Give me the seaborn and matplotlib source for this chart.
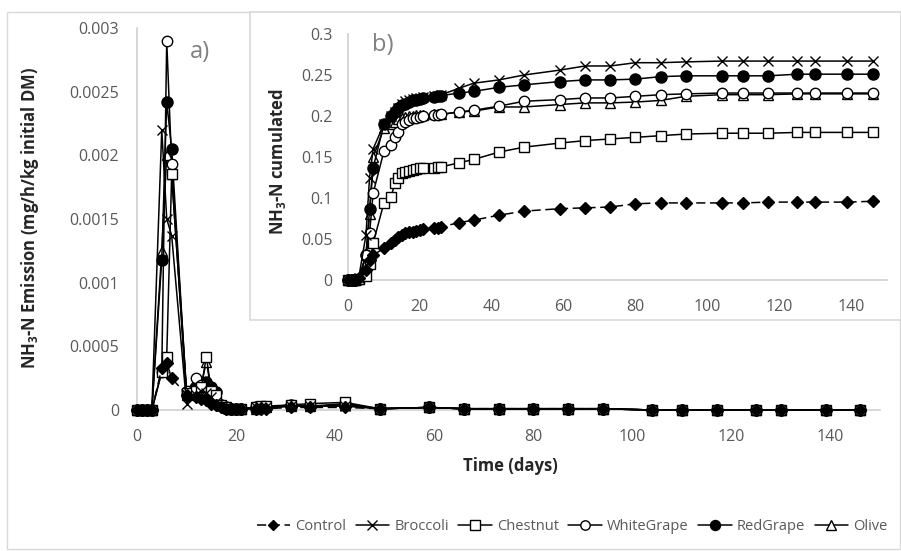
import matplotlib
matplotlib.use("Agg")
import matplotlib.pyplot as plt
import seaborn as sns
import pandas as pd
from matplotlib.patches import Rectangle
from matplotlib.lines import Line2D

# ---------------- data ----------------
days = [0, 1, 2, 3, 5, 6, 7, 10, 12, 13, 14, 15, 16, 17, 18, 19, 20, 21, 24, 25, 26,
        31, 35, 42, 49, 59, 66, 73, 80, 87, 94, 104, 110, 117, 125, 130, 139, 146]

series = ["Control", "Broccoli", "Chestnut", "WhiteGrape", "RedGrape", "Olive"]

# daily emission (mg/h/kg initial DM)
em_control = [0, 0, 0, 0, 0.00033, 0.00037, 0.00025, 0.00012, 0.00010, 0.00009, 0.00008, 0.00005, 0.00004, 0.00002, 0.00001, 0.00001, 0.00001, 0.00001, 0.00001, 0.00001, 0.00001,
              0.00002, 0.00002, 0.00002, 0.00001, 0.00002, 0.00001, 0.00001, 0.00001, 0.00001, 0.00001, 0, 0, 0, 0, 0, 0, 0]
em_broccoli = [0, 0, 0, 0, 0.00220, 0.00150, 0.00137, 0.00005, 0.00012, 0.00015, 0.00013, 0.00010, 0.00006, 0.00003, 0.00002, 0.00001, 0.00001, 0.00001, 0.00002, 0.00002, 0.00002,
               0.00003, 0.00003, 0.00003, 0.00001, 0.00002, 0.00001, 0.00001, 0.00001, 0.00001, 0.00001, 0, 0, 0, 0, 0, 0, 0]
em_chestnut = [0, 0, 0, 0, 0.00030, 0.00042, 0.00185, 0.00013, 0.00015, 0.00018, 0.00042, 0.00015, 0.00012, 0.00004, 0.00002, 0.00001, 0.00001, 0.00001, 0.00002, 0.00003, 0.00003,
               0.00004, 0.00005, 0.00006, 0.00001, 0.00002, 0.00001, 0.00001, 0.00001, 0.00001, 0.00001, 0, 0, 0, 0, 0, 0, 0]
em_whitegrape = [0, 0, 0, 0, 0.00030, 0.00290, 0.00193, 0.00015, 0.00025, 0.00020, 0.00015, 0.00010, 0.00008, 0.00003, 0.00001, 0.00001, 0.00001, 0.00001, 0.00001, 0.00002, 0.00002,
                 0.00003, 0.00003, 0.00004, 0.00001, 0.00002, 0.00001, 0.00001, 0.00001, 0.00001, 0.00001, 0, 0, 0, 0, 0, 0, 0]
em_redgrape = [0, 0, 0, 0, 0.00118, 0.00242, 0.00205, 0.00012, 0.00018, 0.00022, 0.00022, 0.00018, 0.00014, 0.00004, 0.00002, 0.00001, 0.00001, 0.00001, 0.00002, 0.00002, 0.00002,
               0.00004, 0.00003, 0.00005, 0.00001, 0.00002, 0.00001, 0.00001, 0.00001, 0.00001, 0.00001, 0, 0, 0, 0, 0, 0, 0]
em_olive = [0, 0, 0, 0, 0.00125, 0.00200, 0.00185, 0.00012, 0.00015, 0.00020, 0.00038, 0.00015, 0.00012, 0.00004, 0.00002, 0.00001, 0.00001, 0.00001, 0.00001, 0.00002, 0.00002,
            0.00003, 0.00003, 0.00004, 0.00001, 0.00002, 0.00001, 0.00001, 0.00001, 0.00001, 0.00001, 0, 0, 0, 0, 0, 0, 0]

# cumulated NH3-N
cu_control = [0, 0, 0, 0.002, 0.012, 0.025, 0.030, 0.039, 0.045, 0.049, 0.052, 0.055, 0.057, 0.058, 0.059, 0.060, 0.061, 0.062, 0.063, 0.064, 0.065,
              0.070, 0.073, 0.079, 0.084, 0.087, 0.088, 0.089, 0.093, 0.094, 0.094, 0.094, 0.094, 0.095, 0.095, 0.095, 0.095, 0.096]
cu_broccoli = [0, 0, 0, 0.003, 0.055, 0.125, 0.160, 0.190, 0.200, 0.205, 0.210, 0.215, 0.218, 0.220, 0.221, 0.222, 0.222, 0.223, 0.224, 0.225, 0.226,
               0.234, 0.240, 0.244, 0.250, 0.256, 0.261, 0.261, 0.265, 0.265, 0.266, 0.267, 0.267, 0.267, 0.267, 0.267, 0.267, 0.267]
cu_chestnut = [0, 0, 0, 0.001, 0.005, 0.020, 0.045, 0.094, 0.101, 0.118, 0.125, 0.130, 0.132, 0.133, 0.134, 0.135, 0.136, 0.136, 0.137, 0.138, 0.138,
               0.143, 0.147, 0.156, 0.162, 0.167, 0.170, 0.172, 0.174, 0.176, 0.178, 0.179, 0.179, 0.179, 0.180, 0.180, 0.180, 0.180]
cu_whitegrape = [0, 0, 0, 0.001, 0.030, 0.057, 0.106, 0.157, 0.165, 0.175, 0.181, 0.190, 0.193, 0.195, 0.197, 0.198, 0.199, 0.200, 0.201, 0.201, 0.202,
                 0.205, 0.207, 0.212, 0.218, 0.220, 0.222, 0.222, 0.224, 0.226, 0.227, 0.228, 0.228, 0.228, 0.228, 0.228, 0.228, 0.228]
cu_redgrape = [0, 0, 0, 0.001, 0.031, 0.086, 0.137, 0.190, 0.200, 0.205, 0.210, 0.213, 0.215, 0.217, 0.219, 0.220, 0.221, 0.222, 0.223, 0.224, 0.225,
               0.228, 0.230, 0.235, 0.238, 0.242, 0.244, 0.244, 0.245, 0.248, 0.249, 0.249, 0.249, 0.249, 0.251, 0.251, 0.251, 0.251]
cu_olive = [0, 0, 0, 0.001, 0.030, 0.080, 0.150, 0.185, 0.190, 0.193, 0.196, 0.198, 0.199, 0.200, 0.200, 0.201, 0.201, 0.201, 0.202, 0.202, 0.202,
            0.205, 0.206, 0.211, 0.211, 0.214, 0.216, 0.216, 0.217, 0.219, 0.224, 0.226, 0.226, 0.226, 0.227, 0.227, 0.227, 0.227]

main_xticks = [0, 20, 40, 60, 80, 100, 120, 140]
main_yticks = [0, 0.0005, 0.001, 0.0015, 0.002, 0.0025, 0.003]
main_yticklabels = ["0", "0.0005", "0.001", "0.0015", "0.002", "0.0025", "0.003"]
inset_yticks = [0, 0.05, 0.1, 0.15, 0.2, 0.25, 0.3]
inset_yticklabels = ["0", "0.05", "0.1", "0.15", "0.2", "0.25", "0.3"]

emissions = [em_control, em_broccoli, em_chestnut, em_whitegrape, em_redgrape, em_olive]
cumulated = [cu_control, cu_broccoli, cu_chestnut, cu_whitegrape, cu_redgrape, cu_olive]

styles = {
    "Control":    dict(marker="D", mfc="black", ms=6.0, ls=(0, (6, 3))),
    "Broccoli":   dict(marker="x", mfc="black", ms=7.5, ls="-"),
    "Chestnut":   dict(marker="s", mfc="white", ms=7.5, ls="-"),
    "WhiteGrape": dict(marker="o", mfc="white", ms=7.5, ls="-"),
    "RedGrape":   dict(marker="o", mfc="black", ms=8.0, ls="-"),
    "Olive":      dict(marker="^", mfc="white", ms=7.5, ls="-"),
}

# ---------------- style ----------------
sns.set_theme(style="white")
plt.rcParams["font.family"] = ["Open Sans", "DejaVu Sans"]
plt.rcParams["mathtext.fontset"] = "custom"
plt.rcParams["mathtext.rm"] = "Open Sans"
plt.rcParams["mathtext.bf"] = "Open Sans:bold"
TICK_C = "#595959"
AXIS_C = "#d0d0d0"

W, H = 901, 551
fig = plt.figure(figsize=(W / 100, H / 100), dpi=100)
fig.patch.set_facecolor("white")

def fx(px):
    return px / W

def fy(py):
    return 1 - py / H

# outer border
fig.add_artist(Rectangle((fx(7), fy(549)), fx(900) - fx(7), fy(12) - fy(549),
                         transform=fig.transFigure, facecolor="none",
                         edgecolor="#d9d9d9", lw=1.0, zorder=0.5))

def style_axes(ax, xlim, ylim, xticks, yticks, ylabels):
    ax.set_xlim(*xlim)
    ax.set_ylim(*ylim)
    ax.set_xticks(xticks)
    ax.set_xticklabels([str(t) for t in xticks])
    ax.set_yticks(yticks)
    ax.set_yticklabels(ylabels)
    for s in ["top", "right"]:
        ax.spines[s].set_visible(False)
    for s in ["left", "bottom"]:
        ax.spines[s].set_color(AXIS_C)
        ax.spines[s].set_linewidth(1.2)
    ax.tick_params(axis="both", length=0, labelsize=11.5, colors=TICK_C)
    ax.tick_params(axis="y", pad=13)
    ax.tick_params(axis="x", pad=14)
    ax.set_xlabel("")
    ax.set_ylabel("")
    ax.grid(False)

def draw(ax, data):
    # draw in reverse order so the filled markers end up on top
    for name, vals in list(zip(series, data))[::-1]:
        st = styles[name]
        df = pd.DataFrame({"day": days, "value": vals})
        sns.lineplot(data=df, x="day", y="value", ax=ax, color="black", lw=1.1,
                     linestyle=st["ls"], marker=st["marker"], markersize=st["ms"],
                     markerfacecolor=st["mfc"], markeredgecolor="black",
                     markeredgewidth=1.0, sort=False, legend=False, zorder=3)

# main axes
ax = fig.add_axes([fx(137), fy(410), fx(880) - fx(137), fy(28) - fy(410)])
ax.set_facecolor("none")
draw(ax, emissions)
style_axes(ax, (0, 150), (0, 0.003), main_xticks, main_yticks, main_yticklabels)
for l in ax.lines:
    l.set_clip_on(False)

# inset box
fig.add_artist(Rectangle((fx(250), fy(320)), fx(901) - fx(250), fy(12) - fy(320),
                         transform=fig.transFigure, facecolor="white",
                         edgecolor="#d9d9d9", lw=1.2, zorder=1))

ax2 = fig.add_axes([fx(348), fy(280), fx(887) - fx(348), fy(34) - fy(280)], zorder=2)
ax2.set_facecolor("none")
draw(ax2, cumulated)
style_axes(ax2, (0, 150), (0, 0.3), main_xticks, inset_yticks, inset_yticklabels)
ax2.tick_params(axis="y", pad=11)
ax2.tick_params(axis="x", pad=14)
for l in ax2.lines:
    l.set_clip_on(False)

# texts
fig.text(fx(200), fy(52), "a)", fontsize=17, color="#808080", ha="center", va="center")
fig.text(fx(383), fy(45), "b)", fontsize=17, color="#808080", ha="center", va="center", zorder=3)
fig.text(fx(30), fy(218), r"NH$_\mathbf{3}$-N Emission (mg/h/kg initial DM)", rotation=90,
         fontsize=12, fontweight="bold", color="#262626", ha="center", va="center")
fig.text(fx(278), fy(162), r"NH$_\mathbf{3}$-N cumulated", rotation=90,
         fontsize=12, fontweight="bold", color="#262626", ha="center", va="center", zorder=3)
fig.text(fx(510), fy(466), "Time (days)", fontsize=12, fontweight="bold",
         color="#262626", ha="center", va="center")

# legend
handles = []
for name in series:
    st = styles[name]
    handles.append(Line2D([], [], color="black", lw=1.1, linestyle=st["ls"],
                          marker=st["marker"], markersize=st["ms"] * 0.9,
                          markerfacecolor=st["mfc"], markeredgecolor="black",
                          markeredgewidth=1.0))
leg = fig.legend(handles, series, loc="center", bbox_to_anchor=(fx(572), fy(527)),
                 ncol=6, frameon=False, fontsize=10.5, handlelength=2.3,
                 handletextpad=0.35, columnspacing=0.65, labelcolor=TICK_C)

fig.savefig("out.png", dpi=100)
